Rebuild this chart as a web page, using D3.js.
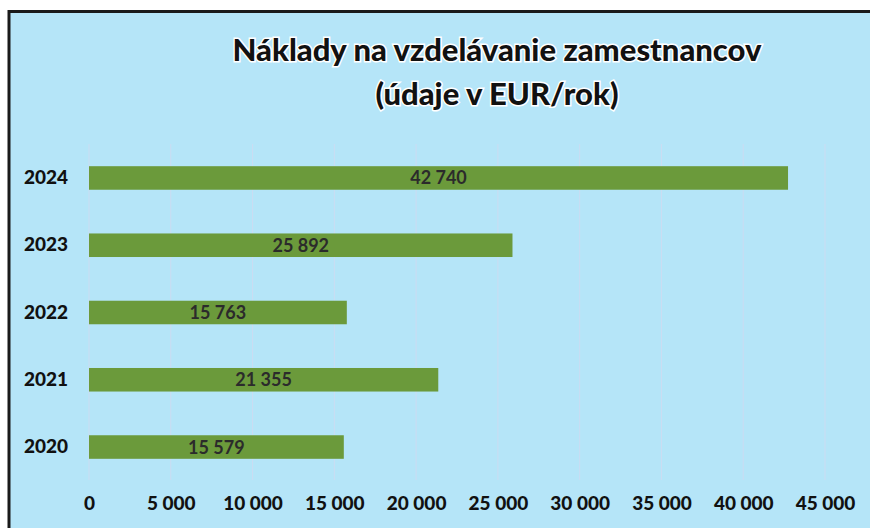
<!DOCTYPE html>
<html>
<head>
<meta charset="utf-8">
<script src="https://cdn.jsdelivr.net/npm/d3@7"></script>
<style>
  body { margin: 0; background: #fff; overflow: hidden; }
  svg { display: block; }
</style>
</head>
<body>
<svg></svg>
<script>
const years = ["2024", "2023", "2022", "2021", "2020"];
const costs = [42740, 25892, 15763, 21355, 15579];
const xTicks = [0, 5000, 10000, 15000, 20000, 25000, 30000, 35000, 40000, 45000];
const titleLines = ["Náklady na vzdelávanie zamestnancov", "(údaje v EUR/rok)"];

const width = 870;
const height = 528;

const svg = d3.select('svg')
  .attr('width', width)
  .attr('height', height);

const locale = d3.formatLocale({ decimal: ",", thousands: " ", grouping: [3], currency: ["", " €"] });
const fmt = locale.format(",d");

// panel background, only top and left border show
svg.append('rect')
  .attr('x', 9)
  .attr('y', 11)
  .attr('width', width - 9)
  .attr('height', height - 11)
  .attr('fill', '#b5e5f8');

svg.append('path')
  .attr('d', `M9,${height} V11.5 H${width}`)
  .attr('fill', 'none')
  .attr('stroke', '#1a1a1a')
  .attr('stroke-width', 3);

const x = d3.scaleLinear()
  .domain([0, 45000])
  .range([89, 825]);

const y = d3.scaleBand()
  .domain(years)
  .range([144, 481])
  .paddingInner(0.65)
  .paddingOuter(0.33);

// gridlines
svg.append('g')
  .selectAll('line')
  .data(xTicks)
  .enter()
  .append('line')
  .attr('x1', d => x(d))
  .attr('x2', d => x(d))
  .attr('y1', 144)
  .attr('y2', 480)
  .attr('stroke', '#cbdcf2')
  .attr('stroke-width', 1);

const data = years.map((yr, i) => ({ year: yr, value: costs[i] }));

svg.append('g')
  .selectAll('rect')
  .data(data)
  .enter()
  .append('rect')
  .attr('x', x(0))
  .attr('y', d => y(d.year))
  .attr('width', d => x(d.value) - x(0))
  .attr('height', y.bandwidth())
  .attr('fill', '#6b9a3b');

// value labels
svg.append('g')
  .selectAll('text')
  .data(data)
  .enter()
  .append('text')
  .attr('x', d => (x(0) + x(d.value)) / 2)
  .attr('y', d => y(d.year) + y.bandwidth() / 2)
  .attr('dy', '0.36em')
  .attr('text-anchor', 'middle')
  .style('font-family', 'Lato, sans-serif')
  .style('font-size', '18px')
  .style('font-weight', 'bold')
  .attr('fill', '#2b2b2b')
  .text(d => fmt(d.value));

// year labels
const yAxis = d3.axisLeft(y).tickSize(0).tickPadding(0);
svg.append('g')
  .attr('transform', 'translate(68,0)')
  .call(yAxis)
  .call(g => g.select('.domain').remove())
  .selectAll('text')
  .style('font-family', 'Lato, sans-serif')
  .style('font-size', '19px')
  .style('font-weight', '900')
  .attr('fill', '#111');

// x tick labels
const xAxis = d3.axisBottom(x).tickValues(xTicks).tickSize(0).tickFormat(fmt);
svg.append('g')
  .attr('transform', 'translate(0,493)')
  .call(xAxis)
  .call(g => g.select('.domain').remove())
  .selectAll('text')
  .style('font-family', 'Lato, sans-serif')
  .style('font-size', '19px')
  .style('font-weight', '900')
  .attr('fill', '#111');

// title
svg.append('g')
  .selectAll('text')
  .data(titleLines)
  .enter()
  .append('text')
  .attr('x', 497)
  .attr('y', (d, i) => 61 + i * 44)
  .attr('text-anchor', 'middle')
  .style('font-family', 'Lato, sans-serif')
  .style('font-size', '31px')
  .style('font-weight', '900')
  .attr('fill', '#111')
  .attr('stroke', '#ffffff')
  .attr('stroke-width', 3)
  .attr('paint-order', 'stroke')
  .text(d => d);
</script>
</body>
</html>
